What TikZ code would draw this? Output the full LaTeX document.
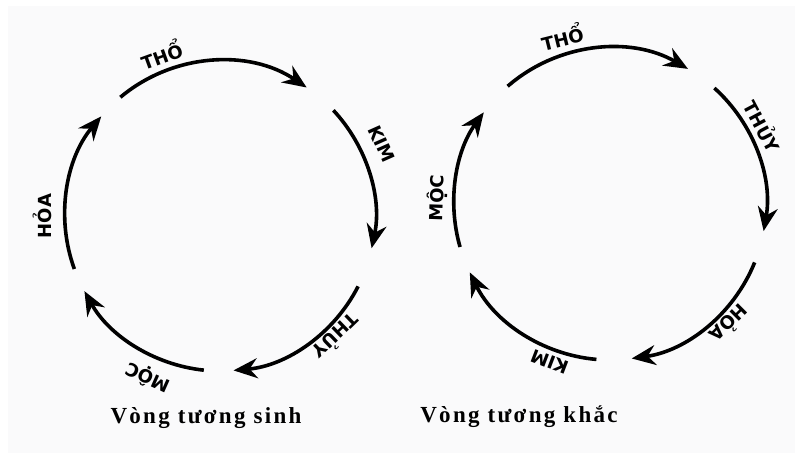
\documentclass[tikz,border=0pt]{standalone}
\usepackage{fontspec}
\usepackage{xcolor}
\usepackage{tikz}
\usetikzlibrary{arrows.meta, calc}

\newfontfamily\lblfont{DejaVu Sans}
\newfontfamily\capfont[LetterSpace=10]{Liberation Serif}
\definecolor{paper}{RGB}{250,250,251}

\tikzset{
  cyclearc/.style={line width=3.6pt, -{Stealth[length=24pt, width=20pt, inset=8pt]}},
  elemlabel/.style={font=\lblfont\bfseries\fontsize{18}{18}\selectfont, inner sep=0pt},
  cyclecaption/.style={font=\capfont\bfseries\fontsize{23}{23}\selectfont, anchor=base}
}

\begin{document}
\begin{tikzpicture}[x=1pt, y=1pt]
  \useasboundingbox (0,0) rectangle (798,459);
  \fill[paper] (8,6) rectangle (795,453);
  \coordinate (sinh) at (220,243);
  \coordinate (khac) at (610,255);
  % vong tuong sinh
  \draw[cyclearc] ([shift={(130:155)}]sinh) arc[start angle=130, end angle=56, radius=155];
  \draw[cyclearc] ([shift={(43:155)}]sinh) arc[start angle=43, end angle=-12, radius=155];
  \draw[cyclearc] ([shift={(-27:155)}]sinh) arc[start angle=-27, end angle=-85, radius=155];
  \draw[cyclearc] ([shift={(-96:155)}]sinh) arc[start angle=-96, end angle=-151, radius=155];
  \draw[cyclearc] ([shift={(-160:155)}]sinh) arc[start angle=-160, end angle=-220, radius=155];
  \node[elemlabel, rotate=20] (sinh-tho) at ([shift={(110:172)}]sinh) {THỔ};
  \node[elemlabel, rotate=-66] (sinh-kim) at ([shift={(24:177)}]sinh) {KIM};
  \node[elemlabel, rotate=-136] (sinh-thuy) at ([shift={(-46:168)}]sinh) {THỦY};
  \node[elemlabel, rotate=156] (sinh-moc) at ([shift={(-114:177)}]sinh) {MỘC};
  \node[elemlabel, rotate=90] (sinh-hoa) at ([shift={(180:178)}]sinh) {HỎA};
  % vong tuong khac
  \draw[cyclearc] ([shift={(131:156)}]khac) arc[start angle=131, end angle=60, radius=156];
  \draw[cyclearc] ([shift={(48:156)}]khac) arc[start angle=48, end angle=-10, radius=156];
  \draw[cyclearc] ([shift={(-22:156)}]khac) arc[start angle=-22, end angle=-82, radius=156];
  \draw[cyclearc] ([shift={(-95:156)}]khac) arc[start angle=-95, end angle=-154, radius=156];
  \draw[cyclearc] ([shift={(-164:156)}]khac) arc[start angle=-164, end angle=-216, radius=156];
  \node[elemlabel, rotate=14] (khac-tho) at ([shift={(106:174)}]khac) {THỔ};
  \node[elemlabel, rotate=-62] (khac-thuy) at ([shift={(27:172)}]khac) {THỦY};
  \node[elemlabel, rotate=-135] (khac-hoa) at ([shift={(-45:170)}]khac) {HỎA};
  \node[elemlabel, rotate=159] (khac-kim) at ([shift={(-111:169)}]khac) {KIM};
  \node[elemlabel, rotate=88] (khac-moc) at ([shift={(178:173)}]khac) {MỘC};
  % captions
  \node[cyclecaption] (sinh-cap) at (206,36) {Vòng tương sinh};
  \node[cyclecaption] (khac-cap) at (519,37) {Vòng tương khắc};
\end{tikzpicture}
\end{document}
